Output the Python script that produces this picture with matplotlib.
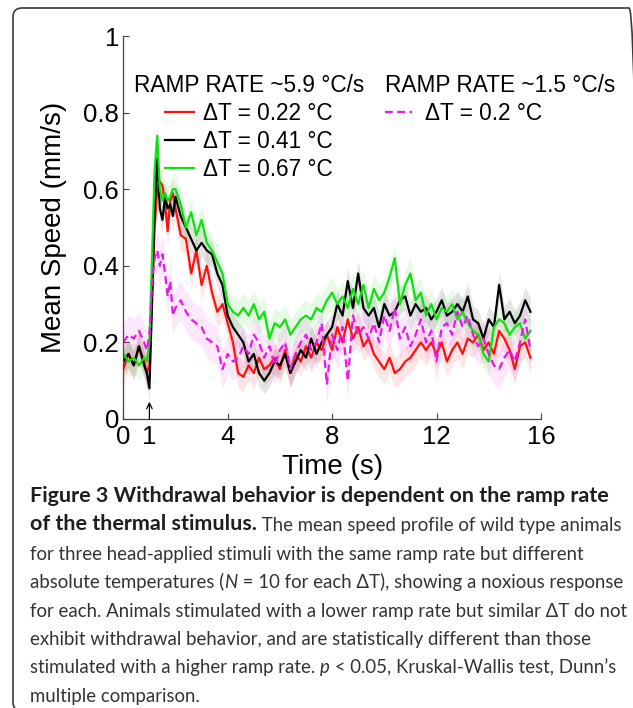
import numpy as np
import matplotlib
matplotlib.use("Agg")
import matplotlib.pyplot as plt
from matplotlib.patches import FancyBboxPatch
from matplotlib.transforms import IdentityTransform

plt.rcParams['font.family'] = ['Liberation Sans', 'DejaVu Sans']

# 1. 데이터.
# sample times (s)
t = np.concatenate([[0.0, 0.2, 0.4, 0.6, 0.8],
                    np.round(np.arange(0.9, 2.01, 0.1), 1),
                    np.round(np.arange(2.2, 15.61, 0.2), 1)])

# RAMP RATE ~5.9 C/s, dT = 0.22
speed_022 = [0.13, 0.17, 0.14, 0.19, 0.15,
             0.12, 0.14, 0.33, 0.50, 0.60, 0.62, 0.61, 0.56, 0.49, 0.57, 0.59, 0.55,
             0.48, 0.47, 0.38, 0.44, 0.35, 0.40, 0.33, 0.28, 0.30, 0.25,
             0.20, 0.12, 0.11, 0.14, 0.12, 0.16, 0.13, 0.14, 0.16, 0.13,
             0.18, 0.12, 0.17, 0.15, 0.19, 0.16, 0.20, 0.18, 0.22, 0.18,
             0.24, 0.20, 0.26, 0.21, 0.24, 0.19, 0.21, 0.17, 0.15, 0.13,
             0.16, 0.12, 0.13, 0.15, 0.16, 0.18, 0.20, 0.18, 0.20, 0.17,
             0.20, 0.15, 0.18, 0.20, 0.17, 0.21, 0.20, 0.22, 0.18, 0.20,
             0.17, 0.23, 0.21, 0.18, 0.13, 0.19, 0.20, 0.16]
# dT = 0.41
speed_041 = [0.15, 0.17, 0.14, 0.19, 0.14,
             0.12, 0.08, 0.30, 0.55, 0.68, 0.55, 0.52, 0.58, 0.55, 0.56, 0.53, 0.58,
             0.53, 0.50, 0.47, 0.44, 0.46, 0.44, 0.43, 0.38, 0.35, 0.27,
             0.24, 0.22, 0.20, 0.15, 0.17, 0.12, 0.10, 0.12, 0.15, 0.14,
             0.17, 0.12, 0.15, 0.18, 0.16, 0.21, 0.17, 0.20, 0.22, 0.24,
             0.30, 0.27, 0.36, 0.29, 0.38, 0.29, 0.27, 0.29, 0.24, 0.30,
             0.27, 0.28, 0.31, 0.32, 0.27, 0.30, 0.28, 0.29, 0.26, 0.28,
             0.31, 0.27, 0.28, 0.30, 0.28, 0.32, 0.26, 0.25, 0.21, 0.26,
             0.24, 0.35, 0.26, 0.28, 0.25, 0.27, 0.31, 0.28]
# dT = 0.67
speed_067 = [0.17, 0.15, 0.16, 0.14, 0.16,
             0.15, 0.20, 0.42, 0.65, 0.74, 0.60, 0.57, 0.59, 0.57, 0.58, 0.60, 0.60,
             0.56, 0.50, 0.54, 0.48, 0.52, 0.46, 0.44, 0.41, 0.38, 0.30,
             0.28, 0.27, 0.29, 0.27, 0.30, 0.26, 0.28, 0.21, 0.25, 0.24,
             0.26, 0.22, 0.24, 0.26, 0.27, 0.26, 0.29, 0.28, 0.31, 0.33,
             0.30, 0.32, 0.29, 0.34, 0.30, 0.35, 0.29, 0.34, 0.31, 0.33,
             0.37, 0.42, 0.30, 0.35, 0.38, 0.31, 0.33, 0.27, 0.30, 0.26,
             0.29, 0.28, 0.30, 0.26, 0.28, 0.25, 0.23, 0.22, 0.17, 0.15,
             0.24, 0.26, 0.25, 0.22, 0.24, 0.25, 0.21, 0.23]
# RAMP RATE ~1.5 C/s, dT = 0.2
speed_slow = [0.20, 0.22, 0.21, 0.23, 0.20,
              0.18, 0.22, 0.35, 0.42, 0.44, 0.40, 0.43, 0.38, 0.32, 0.36, 0.27, 0.29,
              0.31, 0.28, 0.26, 0.25, 0.24, 0.21, 0.20, 0.19, 0.13, 0.17,
              0.15, 0.16, 0.19, 0.17, 0.22, 0.20, 0.16, 0.19, 0.14, 0.18,
              0.20, 0.13, 0.17, 0.20, 0.22, 0.18, 0.20, 0.25, 0.09, 0.22,
              0.18, 0.24, 0.10, 0.27, 0.22, 0.24, 0.21, 0.25, 0.20, 0.27,
              0.23, 0.29, 0.21, 0.24, 0.19, 0.22, 0.26, 0.20, 0.23, 0.15,
              0.24, 0.25, 0.22, 0.28, 0.24, 0.27, 0.22, 0.19, 0.21, 0.17,
              0.14, 0.13, 0.16, 0.18, 0.15, 0.20, 0.26, 0.18]
# approx. half-width of the shaded bands
sem = {'0.22': 0.04, '0.41': 0.035, '0.67': 0.04, 'slow': 0.05}

x_ticks = [0, 1, 4, 8, 12, 16]
y_ticks = [0, 0.2, 0.4, 0.6, 0.8, 1.0]
y_ticklabels = ['0', '0.2', '0.4', '0.6', '0.8', '1']

caption = [
    [("Figure 3 Withdrawal behavior is dependent on the ramp rate", 'bold', 'normal')],
    [("of the thermal stimulus.", 'bold', 'normal'),
     (" The mean speed profile of wild type animals", 'normal', 'normal')],
    [("for three head-applied stimuli with the same ramp rate but different", 'normal', 'normal')],
    [("absolute temperatures (", 'normal', 'normal'), ("N", 'normal', 'italic'),
     (" = 10 for each \u0394T), showing a noxious response", 'normal', 'normal')],
    [("for each. Animals stimulated with a lower ramp rate but similar \u0394T do not", 'normal', 'normal')],
    [("exhibit withdrawal behavior, and are statistically different than those", 'normal', 'normal')],
    [("stimulated with a higher ramp rate. ", 'normal', 'normal'), ("p", 'normal', 'italic'),
     (" < 0.05, Kruskal-Wallis test, Dunn\u2019s", 'normal', 'normal')],
    [("multiple comparison.", 'normal', 'normal')],
]

# 2. 그림.
W, H = 633, 708
fig = plt.figure(figsize=(W / 100, H / 100), dpi=100)
ax = fig.add_axes([123.3 / W, 1 - 419 / H, 417.6 / W, 383 / H])

series = [
    (speed_022, sem['0.22'], '#ff1010', '-', '\u0394T = 0.22 \u00b0C'),
    (speed_041, sem['0.41'], '#000000', '-', '\u0394T = 0.41 \u00b0C'),
    (speed_067, sem['0.67'], '#10e010', '-', '\u0394T = 0.67 \u00b0C'),
    (speed_slow, sem['slow'], '#e619e6', (0, (3.5, 2)), '\u0394T = 0.2 \u00b0C'),
]
for y, s, c, ls, lab in series:
    y = np.asarray(y)
    ax.fill_between(t, y - s, y + s, color=c, alpha=0.1, lw=0)
handles = []
for y, s, c, ls, lab in series:
    h, = ax.plot(t, y, color=c, ls=ls, lw=1.6, label=lab)
    handles.append(h)

ax.set_xlim(0, 16)
ax.set_ylim(0, 1)
ax.set_xticks(x_ticks)
ax.set_yticks(y_ticks)
ax.set_yticklabels(y_ticklabels)
for side in ['top', 'right']:
    ax.spines[side].set_visible(False)
for side in ['left', 'bottom']:
    ax.spines[side].set_color('#444444')
    ax.spines[side].set_linewidth(0.9)
ax.tick_params(direction='in', length=4, width=0.8, color='#444444', labelsize=18.5)
ax.tick_params(axis='x', pad=4.2)
ax.tick_params(axis='y', pad=3)
ax.xaxis.get_major_ticks()[1].tick1line.set_visible(False)

ax.set_xlabel('Time (s)', fontsize=20)
ax.xaxis.set_label_coords(0.5, -0.092)
ax.set_ylabel('Mean Speed (mm/s)', fontsize=20)
ax.yaxis.set_label_coords(-0.135, 0.5)

# stimulus onset arrow
ax.annotate('', xy=(1, 0.045), xytext=(1, 0),
            arrowprops=dict(arrowstyle='->', color='black', lw=0.9, shrinkA=0, shrinkB=0))

# legends
leg_kw = dict(loc='upper left', bbox_transform=fig.transFigure, frameon=False,
              fontsize=16.3, title_fontsize=16.3, borderpad=0, borderaxespad=0,
              labelspacing=0.22)
leg1 = ax.legend(handles=handles[:3], title='RAMP RATE ~5.9 \u00b0C/s',
                 bbox_to_anchor=(134 / W, 1 - 74 / H), handlelength=1.3,
                 handletextpad=0.4, alignment='center', **leg_kw)
ax.add_artist(leg1)
ax.legend(handles=handles[3:], title='RAMP RATE ~1.5 \u00b0C/s',
          bbox_to_anchor=(385 / W, 1 - 74 / H), handlelength=1.2,
          handletextpad=0.55, alignment='left', **leg_kw)

# 3. 캡션.
cap_font = ['Lato', 'Noto Sans', 'DejaVu Sans']
renderer = fig.canvas.get_renderer()


def width_at10(s, weight):
    tt = fig.text(0, 0, s, fontsize=10, family=cap_font, weight=weight)
    w = tt.get_window_extent(renderer).width
    tt.remove()
    return w


fs_reg = 10 * 598 / width_at10(caption[4][0][0], 'normal')
fs_bold = 10 * 580 / width_at10(caption[0][0][0], 'bold')

x0 = 30
base0, step = 506, 28.4
for i, segs in enumerate(caption):
    ybot = H - (base0 + i * step)
    prev = None
    for txt, weight, style in segs:
        fs = fs_bold if weight == 'bold' else fs_reg
        kw = dict(fontsize=fs, family=cap_font, weight=weight, style=style,
                  color='#1e1e1e' if weight == 'bold' else '#333333', va='bottom', ha='left')
        if prev is None:
            prev = fig.text(x0 / W, ybot / H, txt, **kw)
        else:
            prev = ax.annotate(txt, xy=(1, 0), xycoords=prev, annotation_clip=False, **kw)

# frame around figure + caption (right and bottom edges run off the image)
frame = FancyBboxPatch((13, -3), 625, 703, boxstyle='round,pad=0,rounding_size=9',
                       transform=IdentityTransform(), fill=False, ec='#3a3a3a', lw=1.2)
fig.add_artist(frame)

fig.savefig('out.png', dpi=100)
